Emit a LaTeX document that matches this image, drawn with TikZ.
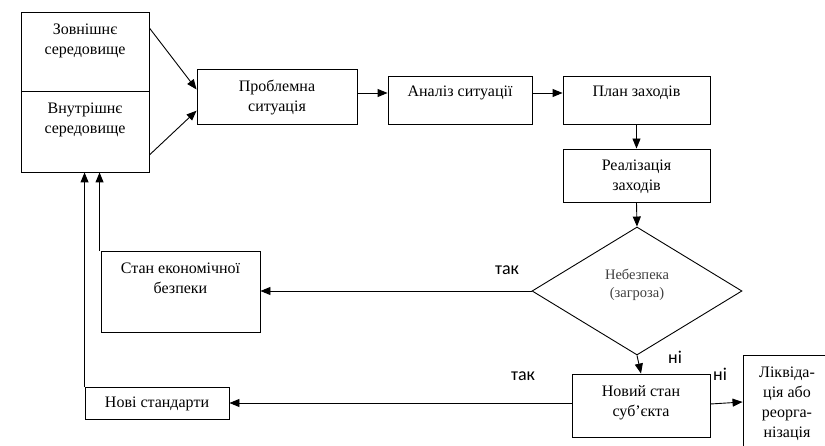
\documentclass[tikz,border=0pt]{standalone}
\usepackage{fontspec}
\setmainfont{Liberation Serif}
\newfontfamily\labfont{Carlito}
\usetikzlibrary{shapes.geometric,arrows.meta,calc}
\tikzset{
  box/.style={draw, line width=0.9pt, rectangle, inner sep=0pt},
  txt/.style={inner sep=0pt, align=center, font=\fontsize{16}{20}\selectfont},
  lab/.style={inner sep=0pt, font=\labfont\fontsize{18}{20}\selectfont},
  arr/.style={line width=0.9pt, -{Triangle[length=10pt,width=8pt]}},
  ln/.style={line width=0.9pt}
}
\begin{document}
\begin{tikzpicture}[x=1pt,y=-1pt]
\useasboundingbox (0,0) rectangle (825,446);
% boxes
\node[box, minimum width=128, minimum height=79] (ext) at (85,51.5) {};
\node[box, minimum width=128, minimum height=81] (int) at (85,131.5) {};
\node[box, minimum width=160, minimum height=55] (prob) at (277,96.5) {};
\node[box, minimum width=144, minimum height=48] (anal) at (460,100) {};
\node[box, minimum width=147, minimum height=48] (plan) at (636.5,100) {};
\node[box, minimum width=147, minimum height=53] (real) at (636.5,175.5) {};
\node[draw, line width=0.9pt, diamond, minimum width=210, minimum height=128, inner sep=0pt] (dia) at (637,291) {};
\node[box, minimum width=159, minimum height=81] (stan) at (180.5,291.5) {};
\node[box, minimum width=144, minimum height=32] (nove) at (157,403) {};
\node[box, minimum width=138, minimum height=63] (nov) at (641,405.5) {};
\node[box, minimum width=82, minimum height=130] (likv) at (784,420) {};
% texts
\node[txt] (t1) at (85,40.5) {Зовнішнє\\середовище};
\node[txt] (t2) at (85,119.5) {Внутрішнє\\середовище};
\node[txt] (t3) at (277,97.5) {Проблемна\\ситуація};
\node[txt] (t4) at (460,93) {Аналіз ситуації};
\node[txt] (t5) at (636.5,93) {План заходів};
\node[txt] (t6) at (636.5,177) {Реалізація\\заходів};
\node[txt, font=\fontsize{14.5}{18}\selectfont, text=black!75] (t7) at (637,285) {Небезпека\\(загроза)};
\node[txt] (t8) at (180.5,278) {Стан економічної\\безпеки};
\node[txt] (t9) at (157,404) {Нові стандарти};
\node[txt] (t10) at (641,403) {Новий стан\\суб’єкта};
\node[txt] (t11) at (787,403.5) {Ліквіда-\\ція або\\реорга-\\нізація};
% labels
\node[lab] (y1) at (507,270) {так};
\node[lab] (y2) at (523,376) {так};
\node[lab] (n1) at (675,357) {ні};
\node[lab] (n2) at (720,374) {ні};
% connectors
\draw[arr] (ext.20) -- (prob.175);
\draw[arr] (int.-20) -- (prob.190);
\draw[arr] (prob.east |- 0,93) -- (anal.west |- 0,93);
\draw[arr] (anal.east |- 0,93) -- (plan.west |- 0,93);
\draw[arr] (plan.south) -- (real.north);
\draw[arr] (real.south) -- (dia.north);
\draw[arr] (dia.west) -- (dia.west -| stan.east);
\draw[arr] (dia.south) -- (nov.north);
\draw[arr] (nov.west |- nove.east) -- (nove.east);
\draw[arr] (nov.east |- 0,404) -- (likv.west |- 0,402);
\draw[arr] ($(stan.north west)+(-1,0)$) -- ($(stan.north west |- int.south)+(-1,0)$);
\draw[arr] (nove.north west) -- (nove.north west |- int.south);
\end{tikzpicture}
\end{document}
